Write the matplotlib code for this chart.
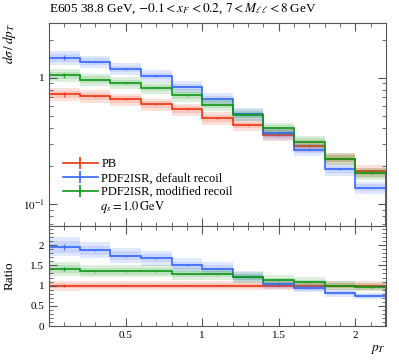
import numpy as np
import matplotlib
matplotlib.use('Agg')
import matplotlib.pyplot as plt
from matplotlib.ticker import MultipleLocator, FixedLocator, NullFormatter

# bin edges in pT
edges = [0.0, 0.2, 0.4, 0.6, 0.8, 1.0, 1.2, 1.4, 1.6, 1.8, 2.0, 2.2]

# dsigma/dpT values
pb = [0.737, 0.714, 0.673, 0.615, 0.562, 0.478, 0.422, 0.352, 0.288, 0.229, 0.182]
default_recoil = [1.44, 1.34, 1.17, 1.03, 0.846, 0.68, 0.514, 0.363, 0.269, 0.188, 0.135]
modified_recoil = [1.04, 0.965, 0.909, 0.83, 0.727, 0.612, 0.508, 0.397, 0.312, 0.229, 0.175]

# relative band widths (outer / inner)
rel_outer = [0.12, 0.11, 0.11, 0.11, 0.11, 0.11, 0.11, 0.11, 0.11, 0.11, 0.11]
rel_inner = [0.07, 0.06, 0.06, 0.06, 0.06, 0.06, 0.06, 0.06, 0.06, 0.06, 0.06]
# small error bars at bin centres
rel_stat = [0.04, 0.015, 0.015, 0.01, 0.01, 0.01, 0.01, 0.01, 0.01, 0.01, 0.01]

labels = ['PB', 'PDF2ISR, default recoil', 'PDF2ISR, modified recoil']
colors = ['#EE3311', '#3366FF', '#109618']

plt.rcParams['font.family'] = ['Liberation Serif', 'DejaVu Serif']
plt.rcParams['mathtext.fontset'] = 'stix'

edges = np.array(edges)
centres = 0.5 * (edges[1:] + edges[:-1])
series = [np.array(pb), np.array(default_recoil), np.array(modified_recoil)]
rel_outer = np.array(rel_outer)
rel_inner = np.array(rel_inner)
rel_stat = np.array(rel_stat)

fig = plt.figure(figsize=(3.99, 3.6), dpi=100)
ax = fig.add_axes([0.123, 0.372, 0.844, 0.564])
rax = fig.add_axes([0.123, 0.094, 0.844, 0.278], sharex=ax)


def draw(a, vals, col):
    a.stairs(vals * (1 + rel_outer), edges, baseline=vals * (1 - rel_outer),
             fill=True, color=col, alpha=0.15, linewidth=0)
    a.stairs(vals * (1 + rel_inner), edges, baseline=vals * (1 - rel_inner),
             fill=True, color=col, alpha=0.15, linewidth=0)
    a.stairs(vals, edges, color=col, linewidth=1.2)
    a.errorbar(centres, vals, yerr=vals * rel_stat, fmt='none', ecolor=col,
               elinewidth=1.0, alpha=0.8)


handles = []
for vals, col, lab in zip(series, colors, labels):
    draw(ax, vals, col)
    h = ax.errorbar([np.nan], [np.nan], yerr=[1], fmt='-', color=col,
                    ecolor=col, linewidth=1.2, elinewidth=1.2, label=lab)
    handles.append(h)
    draw(rax, vals / series[0], col)

ax.set_yscale('log')
ax.set_xlim(0, 2.2)
ax.set_ylim(0.067, 2.7)
rax.set_ylim(0, 2.47)

for a in (ax, rax):
    a.tick_params(which='both', direction='in', top=True, right=True,
                  labelsize=8, colors='#555555', labelcolor='black')
    a.tick_params(which='major', length=6, width=0.8)
    a.tick_params(which='minor', length=3, width=0.6)
    a.xaxis.set_major_locator(MultipleLocator(0.5))
    a.xaxis.set_minor_locator(MultipleLocator(0.1))
    for s in a.spines.values():
        s.set_color('#555555')

ax.tick_params(labelbottom=False)
ax.yaxis.set_major_locator(FixedLocator([0.1, 1]))
ax.set_yticklabels(['$10^{-1}$', '1'])
ax.yaxis.set_minor_formatter(NullFormatter())
rax.yaxis.set_major_locator(MultipleLocator(0.5))
rax.yaxis.set_minor_locator(MultipleLocator(0.1))
rax.set_yticks([0, 0.5, 1, 1.5, 2])
rax.set_yticklabels(['0', '0.5', '1', '1.5', '2'])
rax.set_xticks([0.5, 1, 1.5, 2])
rax.set_xticklabels(['0.5', '1', '1.5', '2'])

fig.text(0.123, 0.955, r'E605 38.8 GeV, $-0.1 < x_F < 0.2$, $7 < M_{\ell\ell} < 8$ GeV',
         fontsize=9.5, ha='left', va='bottom')
fig.text(0.025, 0.936, r'$d\sigma\,/\,dp_T$', fontsize=9.5, rotation=90,
         ha='center', va='top')
fig.text(0.025, 0.233, 'Ratio', fontsize=9.5, rotation=90, ha='center', va='center')
fig.text(0.967, 0.03, r'$p_T$', fontsize=9.5, ha='right', va='center')

ax.legend(handles=handles, loc='upper left', bbox_to_anchor=(0.04, 0.333),
          frameon=False, fontsize=9, handlelength=2.8, handletextpad=0.3,
          labelspacing=0.15, borderaxespad=0, borderpad=0)
ax.text(0.152, 0.095, r'$q_s = 1.0\,\mathrm{GeV}$', transform=ax.transAxes,
        fontsize=9, ha='left', va='center')

fig.savefig('out.png', dpi=100)
